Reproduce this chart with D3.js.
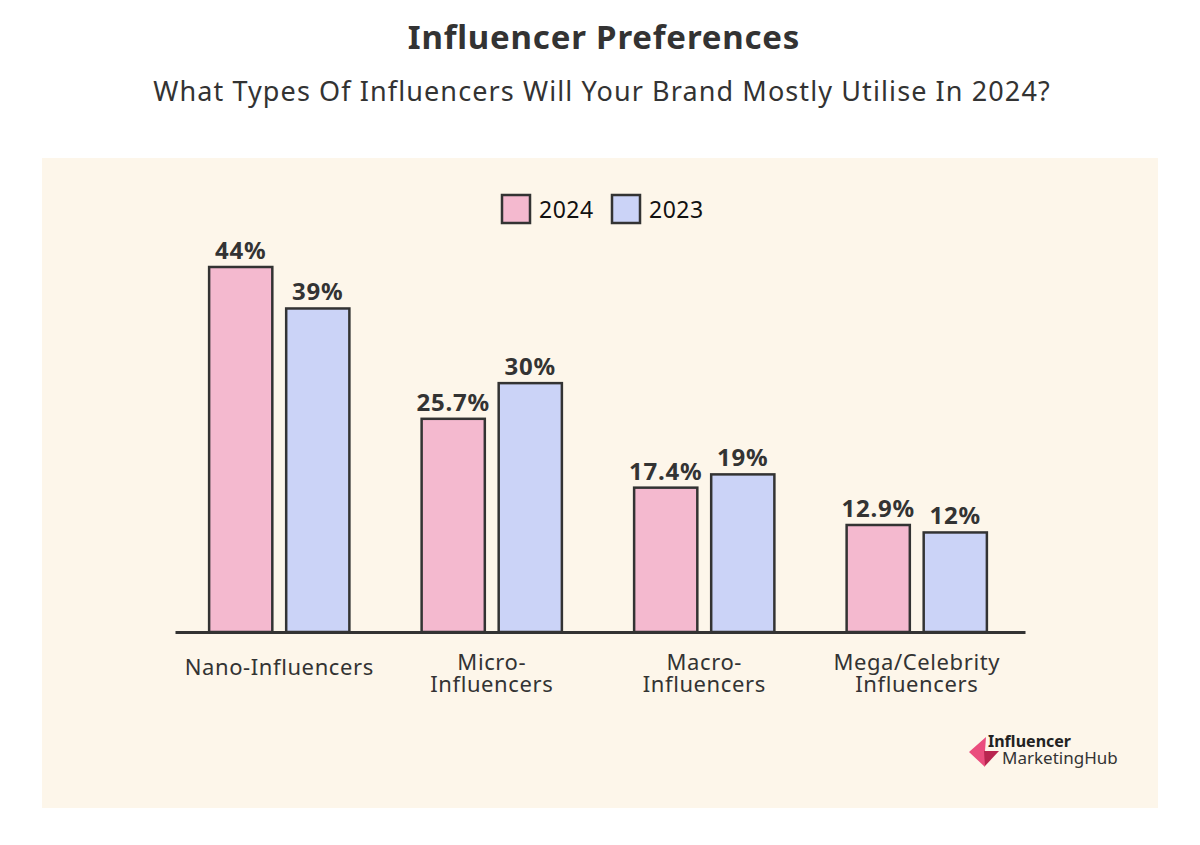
<!DOCTYPE html>
<html><head><meta charset="utf-8">
<script src="https://cdn.jsdelivr.net/npm/d3@7"></script>
<style>html,body{margin:0;padding:0;background:#fff;}svg{display:block;font-family:"Noto Sans",sans-serif;}</style>
</head><body>
<svg id="c" width="1200" height="845"></svg>
<script>
const categories = [["Nano-Influencers"],["Micro-","Influencers"],["Macro-","Influencers"],["Mega/Celebrity","Influencers"]];
const seriesNames = ["2024","2023"];
const values2024 = [44, 25.7, 17.4, 12.9];
const values2023 = [39, 30, 19, 12];
const labels2024 = ["44%","25.7%","17.4%","12.9%"];
const labels2023 = ["39%","30%","19%","12%"];
const colors = ["#f4b9cf","#cbd3f7"];

const svg = d3.select("#c");
const ink = "#333333";
svg.append("rect").attr("x",42).attr("y",158).attr("width",1116).attr("height",650).attr("fill","#fdf6ea");

svg.append("text").attr("x",604).attr("y",49).attr("text-anchor","middle").attr("font-size",33).attr("letter-spacing",0.8).attr("font-weight",700).attr("fill",ink).text("Influencer Preferences");
svg.append("text").attr("x",602).attr("y",101).attr("text-anchor","middle").attr("font-size",27).attr("letter-spacing",1.1).attr("fill",ink).text("What Types Of Influencers Will Your Brand Mostly Utilise In 2024?");

const baseY = 632;
const x0 = d3.scaleBand().domain(d3.range(categories.length)).range([173,1023]).paddingInner(0.34).paddingOuter(0.17);
const x1 = d3.scaleBand().domain(seriesNames).range([0,x0.bandwidth()]).paddingInner(0.18);
const y = d3.scaleLinear().domain([0,44]).range([baseY, baseY-365]);

const data = categories.map((c,i)=>({i, vals:[{s:"2024",v:values2024[i],l:labels2024[i]},{s:"2023",v:values2023[i],l:labels2023[i]}]}));

const g = svg.append("g");
const groups = g.selectAll("g.grp").data(data).join("g").attr("transform",d=>`translate(${x0(d.i)},0)`);
groups.selectAll("rect").data(d=>d.vals).join("rect")
  .attr("x",d=>x1(d.s)).attr("y",d=>y(d.v)).attr("width",x1.bandwidth()).attr("height",d=>baseY-y(d.v))
  .attr("fill",(d,j)=>colors[j]).attr("stroke",ink).attr("stroke-width",2.5);
groups.selectAll("text.val").data(d=>d.vals).join("text").attr("class","val")
  .attr("x",d=>x1(d.s)+x1.bandwidth()/2).attr("y",d=>y(d.v)-8).attr("text-anchor","middle")
  .attr("font-size",24).attr("letter-spacing",0.8).attr("font-weight",700).attr("fill",ink).text(d=>d.l);

// axis baseline
const axis = d3.axisBottom(d3.scaleLinear().range([175,1025])).ticks(0).tickSize(0).tickFormat("");
svg.append("g").attr("transform",`translate(0,${baseY})`).call(axis).call(a=>a.select(".domain").attr("stroke",ink).attr("stroke-width",3));

// category labels
categories.forEach((lines,i)=>{
  const cx = x0(i)+x0.bandwidth()/2;
  const t = svg.append("text").attr("text-anchor","middle").attr("font-size",22).attr("letter-spacing",0.6).attr("fill",ink);
  const startY = lines.length===1 ? 675 : 670;
  lines.forEach((ln,k)=>t.append("tspan").attr("x",cx).attr("y",startY+k*22).text(ln));
});

// legend
const leg = svg.append("g");
const legX = [502,612];
seriesNames.forEach((s,j)=>{
  leg.append("rect").attr("x",legX[j]).attr("y",195).attr("width",28).attr("height",28).attr("fill",colors[j]).attr("stroke",ink).attr("stroke-width",2.5);
  leg.append("text").attr("x",legX[j]+37).attr("y",218).attr("font-size",23).attr("letter-spacing",0.5).attr("fill","#111").text(s);
});

// logo
const lg = svg.append("g");
lg.append("path").attr("d","M986,737 L969,752 L985,767 L985,751 Z").attr("fill","#ea4d7d");
lg.append("path").attr("d","M984,751 L999,751 L985,766 Z").attr("fill","#b8254f");
lg.append("text").attr("x",988).attr("y",747).attr("font-size",16).attr("font-weight",700).attr("fill","#222").text("Influencer");
lg.append("text").attr("x",1002).attr("y",764).attr("font-size",17).attr("fill","#333").text("MarketingHub");
</script>
</body></html>
